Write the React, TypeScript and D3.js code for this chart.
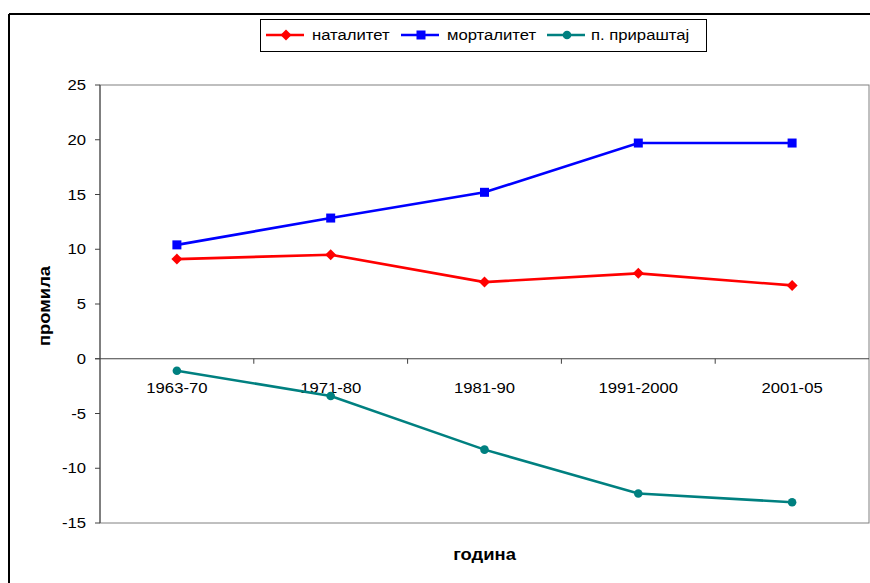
import React from "react";
import * as d3 from "d3";

const categories = ["1963-70", "1971-80", "1981-90", "1991-2000", "2001-05"];
const natalitet = [9.1, 9.5, 7.0, 7.8, 6.7];
const mortalitet = [10.4, 12.85, 15.2, 19.7, 19.7];
const prirastaj = [-1.1, -3.4, -8.3, -12.3, -13.1];
const yTicks = [-15, -10, -5, 0, 5, 10, 15, 20, 25];
const seriesNames = ["наталитет", "морталитет", "п. прираштај"];
const seriesColors = ["#FF0000", "#0000FF", "#008080"];
const seriesMarkers = ["diamond", "square", "circle"];

const W = 870;
const H = 583;
const left = 100;
const right = 869;
const top = 85;
const bottom = 523;
const FONT = "'Liberation Sans', Arial, sans-serif";
const SX = 1.15;

function Txt({
  x,
  y,
  size,
  anchor = "start",
  bold = false,
  rotate = 0,
  dy,
  children,
}: {
  x: number;
  y: number;
  size: number;
  anchor?: string;
  bold?: boolean;
  rotate?: number;
  dy?: string;
  children: React.ReactNode;
}) {
  return (
    <text
      transform={`translate(${x},${y}) rotate(${rotate}) scale(${SX},1)`}
      textAnchor={anchor}
      fontSize={size}
      fontWeight={bold ? "bold" : "normal"}
      dy={dy}
      fill="#000"
    >
      {children}
    </text>
  );
}

function Marker({ type, x, y, color }: { type: string; x: number; y: number; color: string }) {
  if (type === "diamond") {
    const s = 5.5;
    return <path d={`M${x},${y - s}L${x + s},${y}L${x},${y + s}L${x - s},${y}Z`} fill={color} />;
  }
  if (type === "square") {
    return <rect x={x - 4.5} y={y - 4.5} width={9} height={9} fill={color} />;
  }
  return <circle cx={x} cy={y} r={4.3} fill={color} />;
}

export default function App() {
  const x = d3.scaleBand<string>().domain(categories).range([left, right]);
  const y = d3.scaleLinear().domain([-15, 25]).range([bottom, top]);
  const cx = (i: number) => (x(categories[i]) as number) + x.bandwidth() / 2;
  const line = d3
    .line<number>()
    .x((_, i) => cx(i))
    .y((d) => y(d));
  const series = [natalitet, mortalitet, prirastaj];
  const y0 = y(0);

  const legendItems = [
    { lx: 266, tx: 312 },
    { lx: 401, tx: 447 },
    { lx: 547, tx: 591 },
  ];

  return (
    <svg
      width={W}
      height={H}
      style={{ position: "absolute", left: 0, top: 0, background: "#fff" }}
      fontFamily={FONT}
    >
      <rect x={0} y={0} width={W} height={H} fill="#fff" />
      {/* outer chart border */}
      <line x1={9} y1={14} x2={W} y2={14} stroke="#000" strokeWidth={2} />
      <line x1={9} y1={14} x2={9} y2={H} stroke="#000" strokeWidth={2} />
      {/* plot area border */}
      <rect x={left} y={top} width={right - left} height={bottom - top} fill="none" stroke="#808080" strokeWidth={1} />
      {/* y axis */}
      <line x1={left} y1={top} x2={left} y2={bottom} stroke="#404040" strokeWidth={1} />
      {yTicks.map((t) => (
        <g key={t}>
          <line x1={left - 5} x2={left} y1={y(t)} y2={y(t)} stroke="#404040" />
          <Txt x={left - 14} y={y(t)} dy="0.36em" anchor="end" size={14.5}>
            {t}
          </Txt>
        </g>
      ))}
      {/* x axis at zero */}
      <line x1={left - 5} x2={right} y1={y0} y2={y0} stroke="#404040" />
      {categories.map((c, i) => (
        <g key={c}>
          {i > 0 && (
            <line x1={x(c) as number} x2={x(c) as number} y1={y0} y2={y0 + 5} stroke="#404040" />
          )}
          <Txt x={cx(i)} y={y0 + 34} anchor="middle" size={14.5}>
            {c}
          </Txt>
        </g>
      ))}
      {/* series */}
      {series.map((s, si) => (
        <g key={si}>
          <path d={line(s) as string} fill="none" stroke={seriesColors[si]} strokeWidth={2.6} />
          {s.map((v, i) => (
            <Marker key={i} type={seriesMarkers[si]} x={cx(i)} y={y(v)} color={seriesColors[si]} />
          ))}
        </g>
      ))}
      {/* axis titles */}
      <Txt x={50} y={306} rotate={-90} anchor="middle" size={16} bold>
        промила
      </Txt>
      <Txt x={484.5} y={560} anchor="middle" size={16} bold>
        година
      </Txt>
      {/* legend */}
      <rect x={260.5} y={19.5} width={446} height={32} fill="#fff" stroke="#000" strokeWidth={1} />
      {legendItems.map((it, i) => (
        <g key={i}>
          <line x1={it.lx} x2={it.lx + 38} y1={35} y2={35} stroke={seriesColors[i]} strokeWidth={2.6} />
          <Marker type={seriesMarkers[i]} x={it.lx + 20} y={35} color={seriesColors[i]} />
          <Txt x={it.tx} y={35} dy="0.36em" size={14.5}>
            {seriesNames[i]}
          </Txt>
        </g>
      ))}
    </svg>
  );
}
